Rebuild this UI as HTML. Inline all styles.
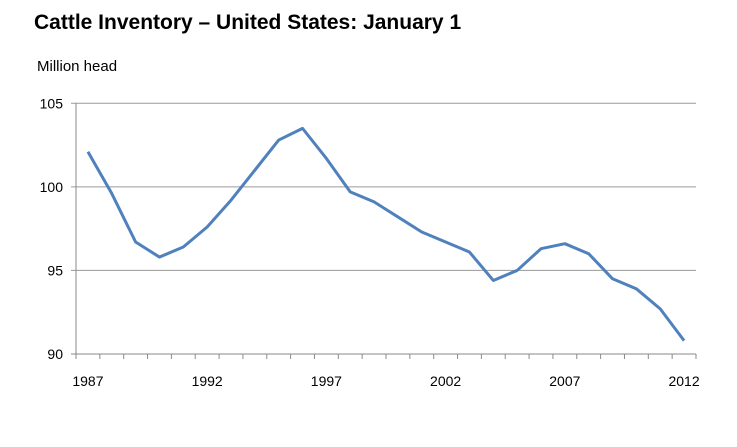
<!DOCTYPE html>
<html><head><meta charset="utf-8"><style>
body{margin:0;background:#fff;font-family:"Liberation Sans",Arial,sans-serif;}
</style></head><body>
<svg width="737" height="447" xmlns="http://www.w3.org/2000/svg" style="display:block">
<text x="34" y="29" font-size="21" font-weight="bold" fill="#000">Cattle Inventory – United States: January 1</text>
<text x="37" y="71" font-size="15" fill="#000">Million head</text>
<g id="grid"></g><g id="axes"></g><g id="series"></g>
</svg>
<script>
const years=[1987,1988,1989,1990,1991,1992,1993,1994,1995,1996,1997,1998,1999,2000,2001,2002,2003,2004,2005,2006,2007,2008,2009,2010,2011,2012];
const values=[102.1,99.6,96.7,95.8,96.4,97.6,99.2,101.0,102.8,103.5,101.7,99.7,99.1,98.2,97.3,96.7,96.1,94.4,95.0,96.3,96.6,96.0,94.5,93.9,92.7,90.8];
const yTicks=[90,95,100,105];
const xLabels=[1987,1992,1997,2002,2007,2012];
const NS="http://www.w3.org/2000/svg";
const X0=76,X1=696,Y0=354,Y1=103.3,ymin=90,ymax=105;
const bw=(X1-X0)/years.length;
function xs(i){return X0+bw*(i+0.5);}
function ys(v){return Y0-(v-ymin)/(ymax-ymin)*(Y0-Y1);}
function mk(t,a,p){const e=document.createElementNS(NS,t);for(const k in a)e.setAttribute(k,a[k]);p.appendChild(e);return e;}
const grid=document.getElementById('grid'),axes=document.getElementById('axes'),ser=document.getElementById('series');
yTicks.forEach(v=>{
  const y=ys(v);
  if(v!==ymin){const l=mk('line',{x1:X0-5,x2:X1,y1:y,y2:y,stroke:'#9a9a9a','stroke-width':1},grid);
  
  }
  const t=mk('text',{x:63,y:y+5,'text-anchor':'end','font-size':14},axes);t.textContent=v;
  
  
});
const ax=mk('line',{x1:X0,x2:X0,y1:Y1,y2:Y0,stroke:'#8a8a8a'},axes);


const bx=mk('line',{x1:X0-5,x2:X1,y1:Y0,y2:Y0,stroke:'#8a8a8a'},axes);


for(let i=0;i<=years.length;i++){const x=X0+bw*i;mk('line',{x1:x,x2:x,y1:Y0,y2:Y0+5,stroke:'#8a8a8a'},axes);}
years.forEach((yr,i)=>{if(xLabels.includes(yr)){
  const t=mk('text',{x:xs(i),y:386,'text-anchor':'middle','font-size':14},axes);t.textContent=yr;
  
  
}});
const pl=mk('polyline',{points:values.map((v,i)=>xs(i)+','+ys(v)).join(' '),fill:'none',stroke:'#4f81bd','stroke-width':3,'stroke-linejoin':'round'},ser);


</script>
</body></html>
